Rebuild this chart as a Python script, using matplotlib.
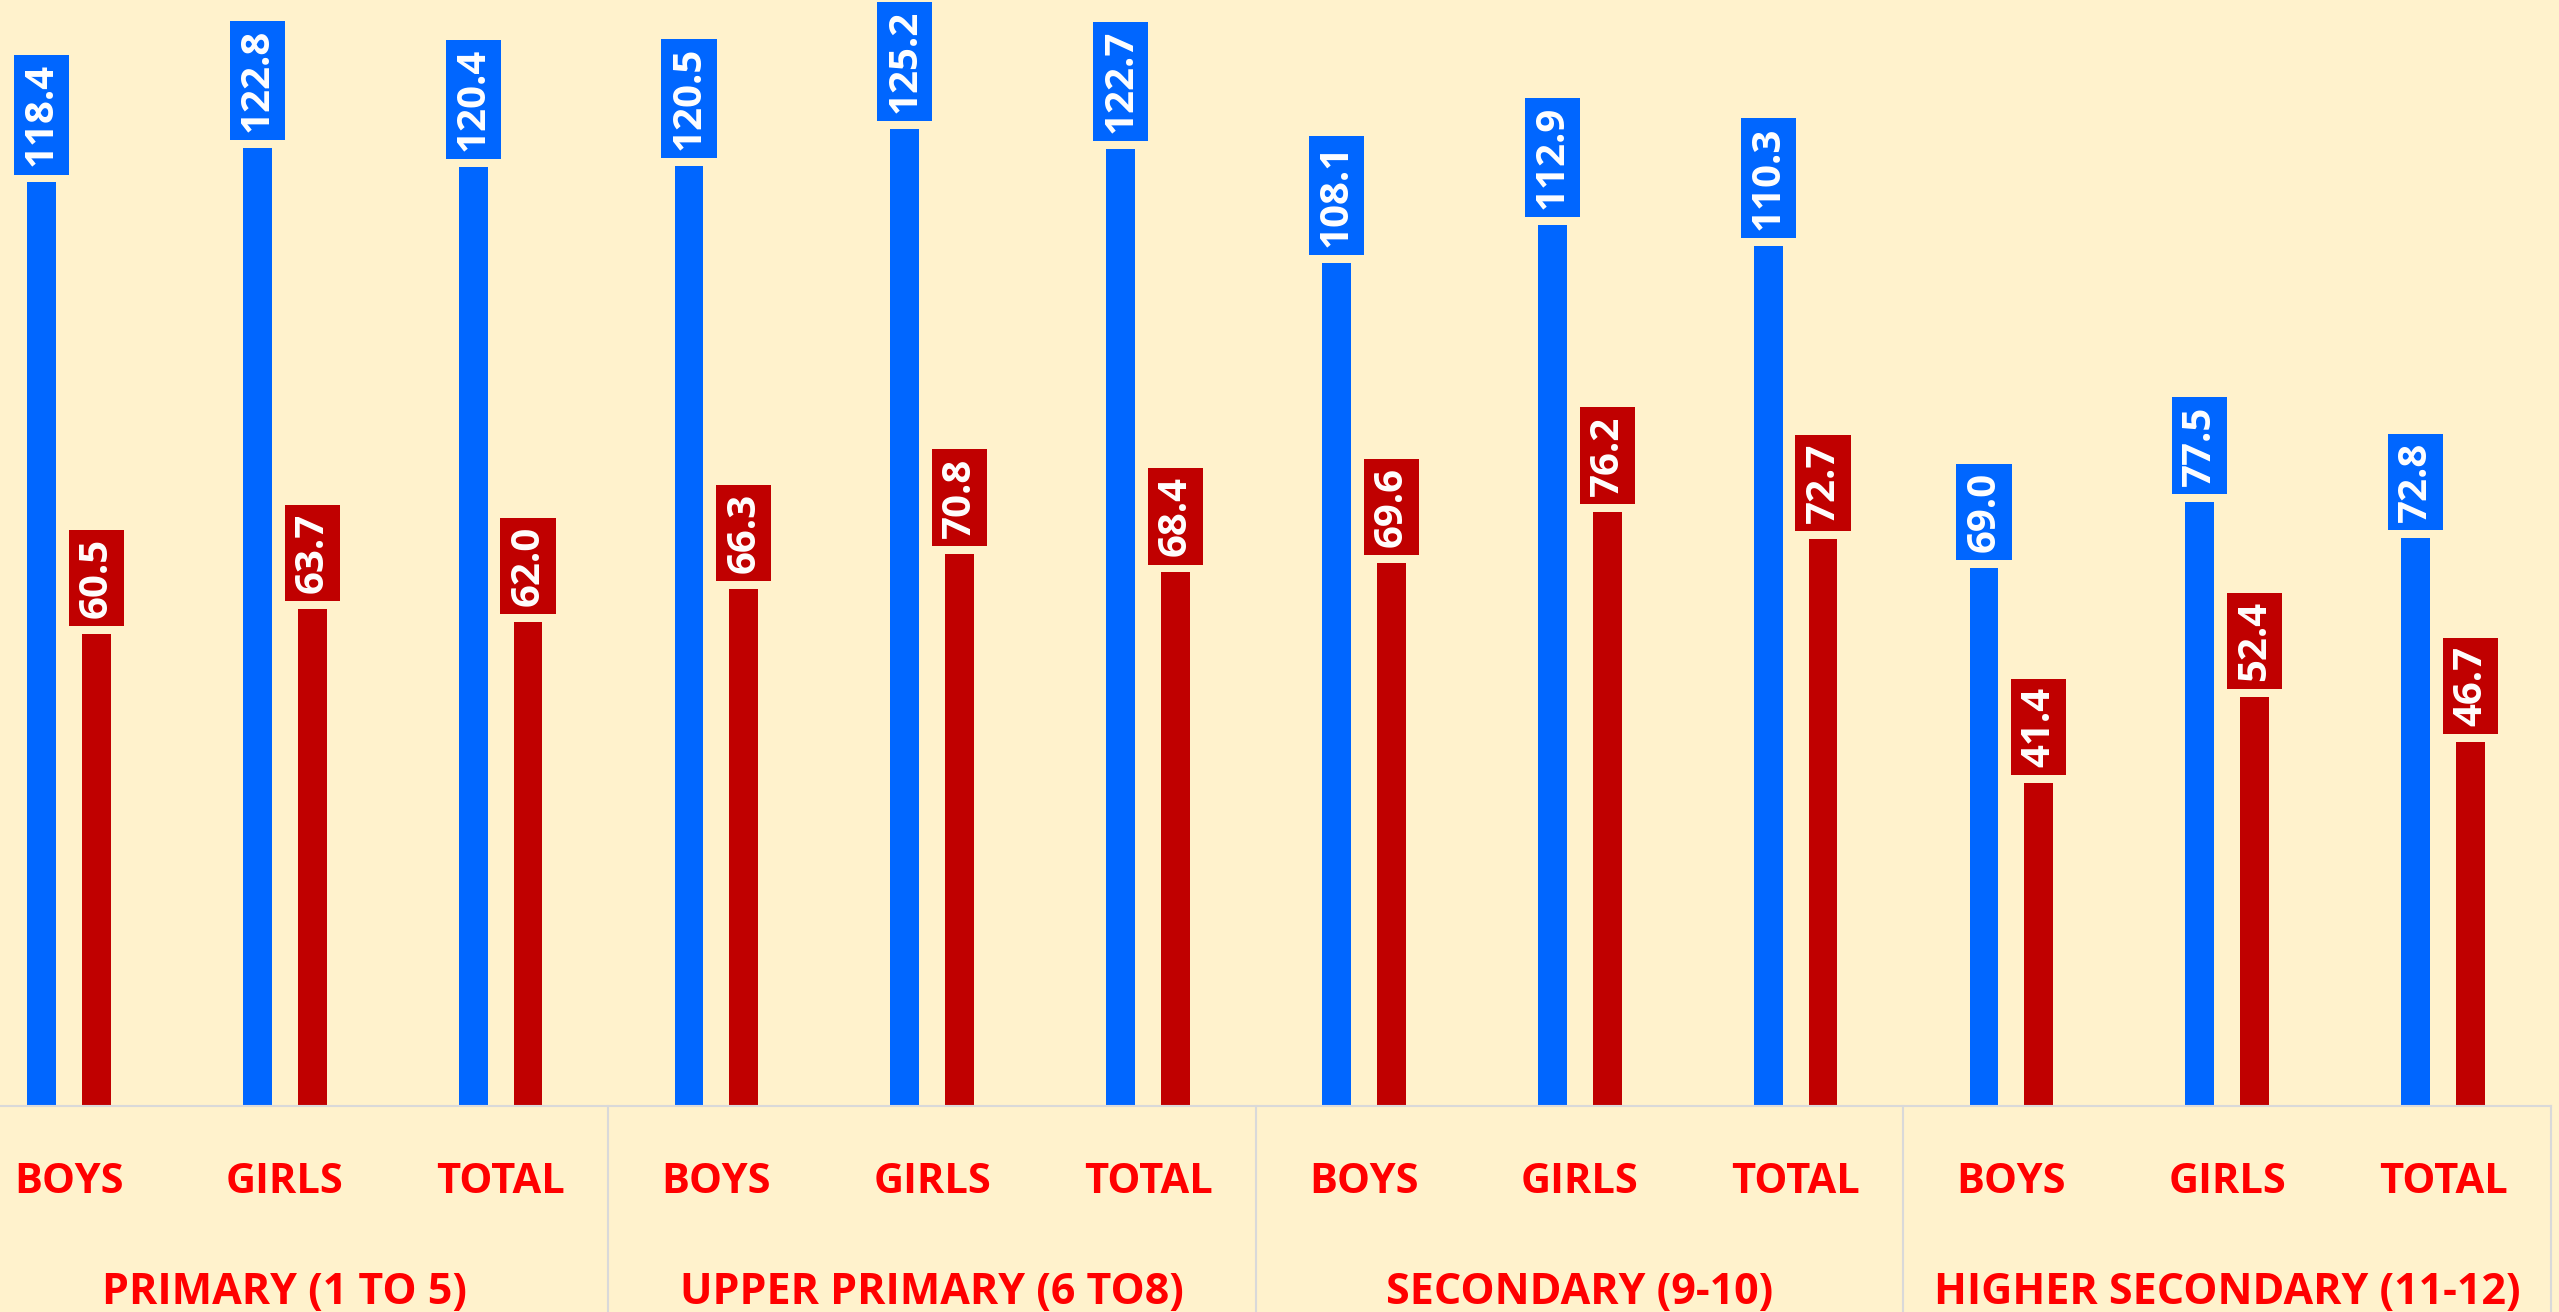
import matplotlib
matplotlib.use("Agg")
from matplotlib import pyplot as plt
from matplotlib import transforms
from matplotlib.lines import Line2D
import numpy as np

sub_labels = ["BOYS", "GIRLS", "TOTAL"] * 4
groups = ["PRIMARY (1 TO 5)", "UPPER PRIMARY (6 TO8)", "SECONDARY (9-10)", "HIGHER SECONDARY (11-12)"]

blue_vals = [118.4, 122.8, 120.4, 120.5, 125.2, 122.7, 108.1, 112.9, 110.3, 69.0, 77.5, 72.8]
red_vals = [60.5, 63.7, 62.0, 66.3, 70.8, 68.4, 69.6, 76.2, 72.7, 41.4, 52.4, 46.7]

bg = "#FFF2CC"
blue = "#0066FF"
red = "#C00000"
label_red = "#FF0000"
grid_col = "#D9D9D9"

plt.rcParams["font.family"] = ["Open Sans", "DejaVu Sans"]

fig = plt.figure(figsize=(25.59, 13.12), dpi=100, facecolor=bg)
ax_bottom = (1312 - 1106) / 1312
ax = fig.add_axes([0, ax_bottom, 2551 / 2559, 1 - ax_bottom])
ax.set_facecolor(bg)

x = np.arange(len(blue_vals))
w = 0.134
off = 0.127
ax.bar(x - off, blue_vals, width=w, color=blue)
ax.bar(x + off, red_vals, width=w, color=red)

ax.set_xlim(-0.5 + 39 / 215.8, 11.5)
ax.set_ylim(0, 1106 / 7.8)

# value labels in boxes above the bars
for xs, vals, col in [(x - off, blue_vals, blue), (x + off, red_vals, red)]:
    for xi, v in zip(xs, vals):
        ax.annotate(f"{v:.1f}", (xi, v), xytext=(0, 16), textcoords="offset pixels",
                    rotation=90, ha="center", va="bottom", color="white",
                    fontsize=29, fontweight="bold",
                    bbox=dict(boxstyle="square,pad=0.2", fc=col, ec="none"))

for s in ax.spines.values():
    s.set_visible(False)
ax.set_xticks([])
ax.set_yticks([])

# category axis text
px = 1 / 1106
for xi, lab in zip(x, sub_labels):
    ax.text(xi, -87 * px, lab, transform=ax.get_xaxis_transform(), ha="center",
            va="baseline", color=label_red, fontsize=30, fontweight="bold")
for i, g in enumerate(groups):
    ax.text(3 * i + 1, -198 * px, g, transform=ax.get_xaxis_transform(), ha="center",
            va="baseline", color=label_red, fontsize=31, fontweight="bold")

# axis line and group separators
ax.add_line(Line2D([0, 1], [0, 0], transform=ax.transAxes, color=grid_col, lw=1.5, clip_on=False))
tr = transforms.blended_transform_factory(ax.transData, fig.transFigure)
for sx in [2.5, 5.5, 8.5, 11.5]:
    fig.add_artist(Line2D([sx, sx], [0, ax_bottom], transform=tr, color=grid_col, lw=1.5))

fig.savefig("out.png", dpi=100, facecolor=bg)
